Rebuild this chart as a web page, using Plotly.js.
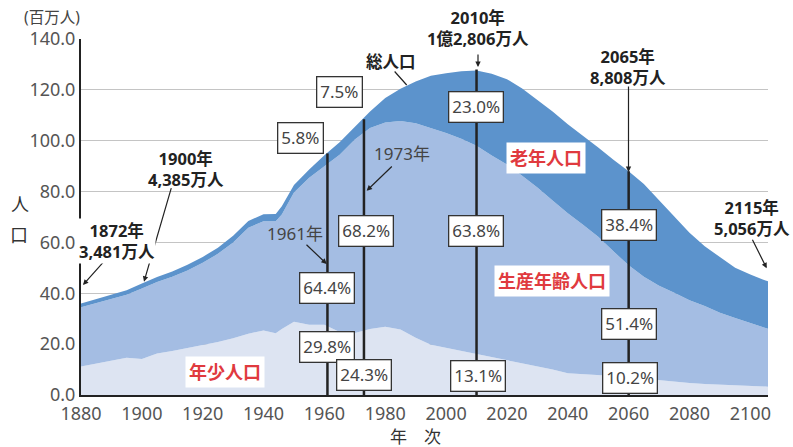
<!DOCTYPE html>
<html>
<head>
<meta charset="utf-8">
<script src="https://cdn.plot.ly/plotly-3.0.1.min.js"></script>
<style>html,body{margin:0;padding:0;background:#fff;}#chart{width:793px;height:447px;}</style>
</head>
<body>
<div id="chart"></div>
<script>
// ---- data (millions of people) ----
const years = [1880,1885,1890,1895,1900,1905,1910,1915,1920,1925,1930,1935,1940,1944,1946,1950,1955,1960,1965,1970,1975,1980,1985,1990,1995,2000,2005,2010,2015,2020,2025,2030,2035,2040,2045,2050,2055,2060,2065,2070,2075,2080,2085,2090,2095,2100,2105,2110];
const youthPop   = [11.2,12.3,13.6,14.6,14.2,16.3,17.3,18.5,19.6,20.8,22.3,24.1,25.4,24.3,26.0,28.8,27.6,27.6,24.8,24.4,26.0,26.8,25.8,22.5,19.8,18.6,17.3,16.2,15.0,13.8,12.6,11.5,10.0,8.6,8.3,7.9,7.5,7.0,6.4,5.8,5.2,4.7,4.3,4.0,3.7,3.5,3.3,3.2];
const workingPop = [23.3,23.8,24.0,24.8,27.7,28.1,29.2,30.5,32.4,34.7,37.7,41.7,42.9,44.0,45.0,50.8,57.8,62.2,69.7,76.1,79.0,80.4,82.0,84.4,85.2,84.4,83.5,81.8,79.2,76.8,73.6,70.1,66.5,62.9,58.7,54.3,49.0,44.0,40.1,37.2,35.0,32.6,30.7,28.3,26.6,24.8,23.0,21.8];
const elderlyPop = [1.5,1.6,1.7,1.8,1.9,2.0,2.1,2.2,2.3,2.4,2.6,2.6,2.8,2.9,3.2,3.0,3.3,4.5,4.9,5.0,6.5,9.6,12.6,16.4,20.5,23.5,26.5,29.6,32.1,33.6,34.3,34.4,35.0,35.0,35.0,35.1,36.0,37.0,36.5,33.5,29.8,26.5,23.5,22.0,19.7,19.1,18.7,18.5];

const seriesNames = ['年少人口','生産年齢人口','老年人口'];
const xTickVals = [1880,1900,1920,1940,1960,1980,2000,2020,2040,2060,2080,2100];
const xTickText = ['1880','1900','1920','1940','1960','1980','2000','2020','2040','2060','2080','2100'];
const yTickVals = [0,20,40,60,80,100,120,140];
const yTickText = ['0.0','20.0','40.0','60.0','80.0','100.0','120.0','140.0'];

const markerYears = [1961, 1973, 2010, 2060];
const markerTops  = [95.0, 108.4, 128.0, 88.0];

const pctTexts = ['5.8%','64.4%','29.8%','7.5%','68.2%','24.3%','23.0%','63.8%','13.1%','38.4%','51.4%','10.2%'];

const callouts = [
  ['1872年','3,481万人'],
  ['1900年','4,385万人'],
  ['2010年','1億2,806万人'],
  ['2065年','8,808万人'],
  ['2115年','5,056万人']
];

// ---- styling ----
const FONT = "'Noto Sans', 'Noto Sans CJK JP', sans-serif";
const colors = ['#dde4f2', '#a4bde3', '#5c93cc'];
const L = 81, R = 25, T = 39, B = 52, W = 793, H = 447;
const PW = W - L - R, PH = H - T - B;
function px(x){ return (x - L) / PW; }
function py(y){ return (H - B - y) / PH; }

const traces = [youthPop, workingPop, elderlyPop].map((vals, i) => ({
  type: 'scatter', mode: 'lines', x: years, y: vals, name: seriesNames[i],
  stackgroup: 'pop', fillcolor: colors[i], line: {width: 0, color: colors[i]},
  hoverinfo: 'skip'
}));

markerYears.forEach((yr, i) => {
  traces.push({type: 'scatter', mode: 'lines', x: [yr, yr], y: [0, markerTops[i]],
    line: {color: '#222', width: 2.5}, hoverinfo: 'skip', showlegend: false});
});

const ann = [];
function txt(text, x, y, o) {
  ann.push(Object.assign({text: text, xref: 'paper', yref: 'paper', x: px(x), y: py(y),
    xanchor: 'center', yanchor: 'middle', showarrow: false,
    font: {family: FONT, size: 17, color: '#333'}}, o || {}));
}
function arrow(hx, hy, tx, ty, head) {
  ann.push({text: '', xref: 'paper', yref: 'paper', x: px(hx), y: py(hy),
    axref: 'pixel', ayref: 'pixel', ax: tx - hx, ay: ty - hy, showarrow: true,
    arrowhead: head === undefined ? 2 : head, arrowsize: 0.9, arrowwidth: 1.2, arrowcolor: '#222', standoff: 0});
}

// arrows (drawn first so labels sit over their tails)
arrow(144, 281.7, 171.7, 186.7);
arrow(83, 285, 106.7, 258.3);
arrow(326.7, 264, 305, 243.3);
arrow(366.7, 190.7, 393.3, 165);
arrow(478, 67, 478, 49);
arrow(628.5, 172, 628.5, 85);
arrow(766.7, 268.3, 751.7, 238.3);
arrow(406.7, 85, 393.3, 70, 0);

// percent boxes
const pctPos = [[300.7,138.3],[327.2,288.3],[327.2,346.7],[339.7,92.3],[365.5,231],[364.2,375],
                [476.3,106.7],[476.3,231],[478.3,375.5],[628.7,225],[628.8,324.3],[630,378.3]];
pctTexts.forEach((t, i) => {
  txt(t, pctPos[i][0], pctPos[i][1], {bgcolor: '#fff', bordercolor: '#333', borderwidth: 1.3, borderpad: 3,
    font: {family: FONT, size: 17, color: '#444'}});
});

// callout labels (bold, two lines)
const bold = {family: FONT, size: 16.5, color: '#222', weight: 700};
const calloutPos = [[116.5,241],[186,168.5],[478,27.5],[628,66.7],[752,218.3]];
callouts.forEach((c, i) => {
  const p = calloutPos[i];
  const withBg = (i === 0 || i === 2);
  txt('<b>' + c[0] + '</b><br><b>' + c[1] + '</b>', p[0], p[1], {font: bold,
    bgcolor: withBg ? '#fff' : 'rgba(0,0,0,0)', borderpad: i === 2 ? 4 : 0});
});
txt('<b>総人口</b>', 391, 61.7, {font: bold});
txt('1973年', 401.7, 153, {font: {family: FONT, size: 17, color: '#444'}});
txt('1961年', 295, 234, {font: {family: FONT, size: 17, color: '#444'}});

// series labels
const red = {family: FONT, size: 18, color: '#e03a3e', weight: 700};
txt('<b>' + seriesNames[0] + '</b>', 224.5, 372, {font: red, bgcolor: '#fff', borderpad: 3});
txt('<b>' + seriesNames[1] + '</b>', 551.7, 280.5, {font: red, bgcolor: '#fff', borderpad: 3});
txt('<b>' + seriesNames[2] + '</b>', 545.5, 157.5, {font: red, bgcolor: '#fff', borderpad: 3});

// axis titles
txt('(百万人)', 52, 16.5, {font: {family: FONT, size: 15.5, color: '#444'}});
txt('人', 19.5, 203.5, {font: {family: FONT, size: 18, color: '#333'}});
txt('口', 18.5, 235, {font: {family: FONT, size: 18, color: '#333'}});
txt('年　次', 415.5, 436.5, {font: {family: FONT, size: 17, color: '#333'}});

const layout = {
  width: W, height: H,
  margin: {l: L, r: R, t: T, b: B, pad: 0},
  paper_bgcolor: '#fff', plot_bgcolor: '#fff',
  showlegend: false,
  font: {family: FONT, color: '#444'},
  xaxis: {range: [1880, 2105.8], tickvals: xTickVals, ticktext: xTickText, showgrid: false,
    showline: true, linecolor: '#222', linewidth: 2, ticks: '', zeroline: false, ticklabelstandoff: 1,
    tickfont: {family: FONT, size: 18, color: '#555'}, fixedrange: true},
  yaxis: {range: [0, 140], tickvals: yTickVals, ticktext: yTickText, showgrid: true,
    gridcolor: '#c4c4c4', gridwidth: 1.2, showline: true, linecolor: '#222', linewidth: 2,
    ticks: '', zeroline: false, tickfont: {family: FONT, size: 18, color: '#555'}, fixedrange: true},
  annotations: ann
};

Plotly.newPlot('chart', traces, layout, {staticPlot: true, displayModeBar: false});
</script>
</body>
</html>
